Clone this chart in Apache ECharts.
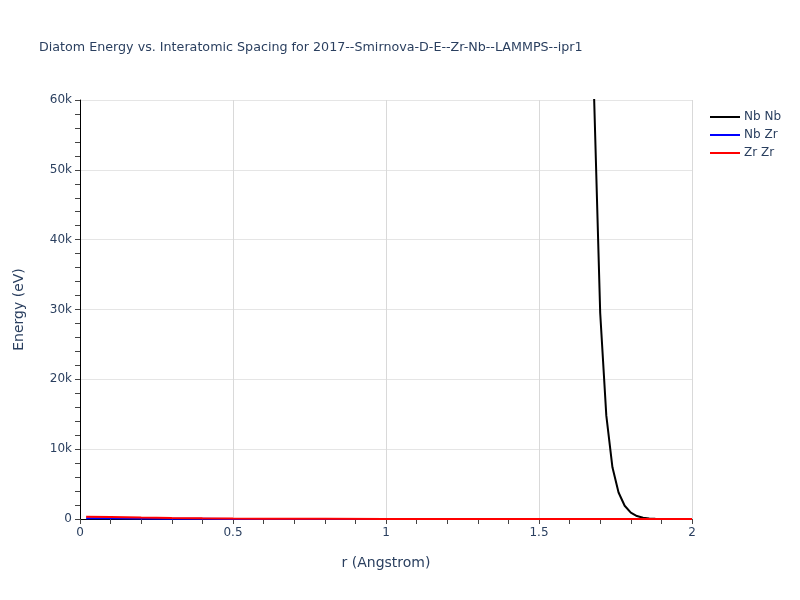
<!DOCTYPE html>
<html>
<head>
<meta charset="utf-8">
<script src="https://cdn.jsdelivr.net/npm/echarts@6/dist/echarts.min.js"></script>
<style>html,body{margin:0;padding:0;background:#fff}#c{width:800px;height:600px}</style>
</head>
<body>
<div id="c"></div>
<script>
const titleText = 'Diatom Energy vs. Interatomic Spacing for 2017--Smirnova-D-E--Zr-Nb--LAMMPS--ipr1';
const seriesNames = ['Nb Nb', 'Nb Zr', 'Zr Zr'];
const seriesColors = ['#000000', '#0000ff', '#ff0000'];

const nbnbR = [1.68, 1.70, 1.72, 1.74, 1.76, 1.78, 1.80, 1.82, 1.84, 1.86, 1.88, 1.90, 1.92, 1.94, 1.96, 1.98, 2.00];
const nbnbE = [60500, 29500, 14800, 7400, 3800, 1900, 900, 420, 190, 80, 30, 10, 3, 1, 0, 0, 0];

const nbzrR = [0.02, 0.1, 0.2, 0.3, 0.4, 0.5, 0.6, 0.8, 1.0, 1.2, 1.4, 1.6, 1.8, 2.0];
const nbzrE = [120, 100, 70, 45, 25, 12, 6, 3, 1, 0, 0, 0, 0, 0];

const zrzrR = [0.02, 0.1, 0.2, 0.3, 0.4, 0.5, 0.6, 0.8, 1.0, 1.2, 1.4, 1.6, 1.8, 2.0];
const zrzrE = [330, 270, 200, 140, 90, 55, 35, 18, 9, 4, 2, 1, 0, 0];

const xTicks = [0, 0.5, 1, 1.5, 2];
const yTicks = [0, 10000, 20000, 30000, 40000, 50000, 60000];

function pairs(r, e) { return r.map((v, i) => [v, e[i]]); }
const datasets = [pairs(nbnbR, nbnbE), pairs(nbzrR, nbzrE), pairs(zrzrR, zrzrE)];

const font = '"DejaVu Sans", Verdana, sans-serif';
const txt = '#2a3f5f';
const chart = echarts.init(document.getElementById('c'), null, {renderer: 'canvas'});
chart.setOption({
  animation: false,
  backgroundColor: '#ffffff',
  title: {
    text: titleText, left: 34, top: 36,
    textStyle: {fontFamily: font, fontSize: 12.7, fontWeight: 'normal', color: txt}
  },
  legend: {
    orient: 'vertical', left: 705, top: 106, itemGap: 6,
    itemWidth: 30, itemHeight: 2, icon: 'rect',
    data: seriesNames,
    textStyle: {fontFamily: font, fontSize: 12, color: txt, padding: [0, 0, 0, -1]}
  },
  grid: {left: 80, right: 108, top: 100, bottom: 81, containLabel: false},
  xAxis: {
    type: 'value', min: xTicks[0], max: xTicks[xTicks.length - 1], interval: 0.5,
    name: 'r (Angstrom)', nameLocation: 'middle', nameGap: 37,
    nameTextStyle: {fontFamily: font, fontSize: 14, color: txt},
    axisLine: {show: true, onZero: false, lineStyle: {color: '#000', width: 1}},
    axisTick: {show: true, length: 5, lineStyle: {color: '#444'}},
    minorTick: {show: true, splitNumber: 5, length: 5, lineStyle: {color: '#444'}},
    axisLabel: {fontFamily: font, fontSize: 12, color: txt, margin: 8,
      formatter: v => String(v)},
    splitLine: {show: true, lineStyle: {color: '#d9d9d9', width: 1}}
  },
  yAxis: {
    type: 'value', min: yTicks[0], max: yTicks[yTicks.length - 1], interval: 10000,
    name: 'Energy (eV)', nameLocation: 'middle', nameGap: 54,
    nameTextStyle: {fontFamily: font, fontSize: 14, color: txt},
    axisLine: {show: true, onZero: false, lineStyle: {color: '#000', width: 1}},
    axisTick: {show: true, length: 5, lineStyle: {color: '#444'}},
    minorTick: {show: true, splitNumber: 5, length: 5, lineStyle: {color: '#444'}},
    axisLabel: {fontFamily: font, fontSize: 12, color: txt, margin: 8,
      formatter: v => v === 0 ? '0' : (v / 1000) + 'k'},
    splitLine: {show: true, lineStyle: {color: '#e5e5e5', width: 1}}
  },
  series: seriesNames.map((n, i) => ({
    name: n, type: 'line', data: datasets[i], showSymbol: false, symbol: 'none',
    clip: true, smooth: false,
    lineStyle: {color: seriesColors[i], width: 2},
    itemStyle: {color: seriesColors[i]}
  }))
});
</script>
</body>
</html>
